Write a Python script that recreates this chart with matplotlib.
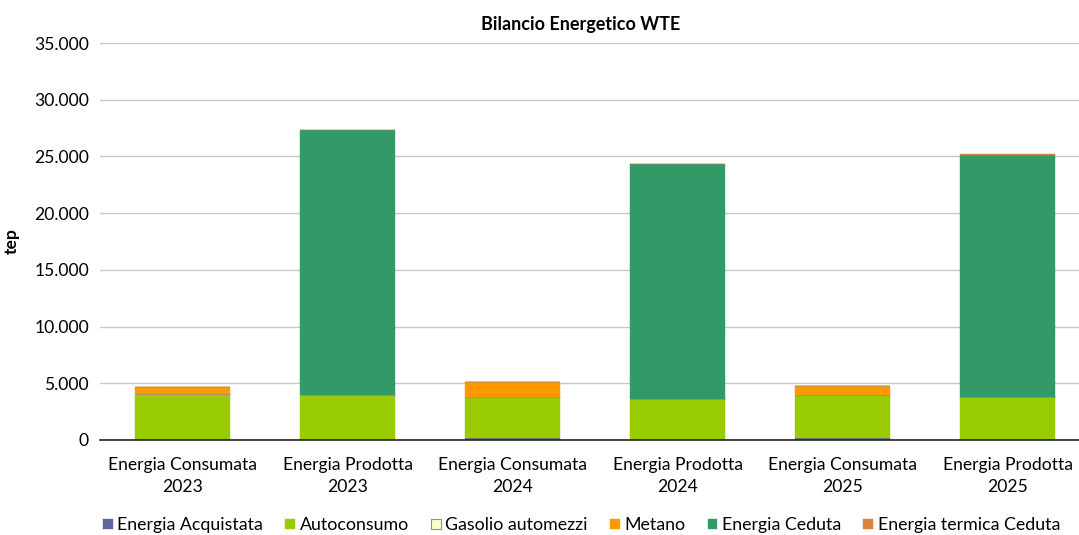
import matplotlib.pyplot as plt
import numpy as np
from matplotlib.ticker import FuncFormatter

plt.rcParams['font.family'] = ['Lato', 'DejaVu Sans']

categorie = ['Energia Consumata\n2023', 'Energia Prodotta\n2023',
             'Energia Consumata\n2024', 'Energia Prodotta\n2024',
             'Energia Consumata\n2025', 'Energia Prodotta\n2025']

acquistata = [30, 0, 180, 0, 180, 0]
autoconsumo = [4000, 3970, 3610, 3615, 3790, 3790]
gasolio = [30, 0, 0, 0, 30, 0]
metano = [610, 0, 1300, 0, 790, 0]
ceduta = [0, 23370, 0, 20720, 0, 21340]
termica = [0, 0, 0, 0, 0, 50]

serie = [
    ('Energia Acquistata', acquistata, '#62649c'),
    ('Autoconsumo', autoconsumo, '#99cc00'),
    ('Gasolio automezzi', gasolio, '#ffffcc'),
    ('Metano', metano, '#ff9900'),
    ('Energia Ceduta', ceduta, '#339966'),
    ('Energia termica Ceduta', termica, '#dd8040'),
]

fig = plt.figure(figsize=(10.79, 5.35), dpi=100)
ax = fig.add_axes([0.0927, 0.1776, 0.9175, 0.742])

x = np.arange(len(categorie))
bottom = np.zeros(len(categorie))
handles = []
for nome, valori, colore in serie:
    valori = np.array(valori, dtype=float)
    if nome == 'Gasolio automezzi':
        edge, lw = '#909090', 0.8
    else:
        edge, lw = colore, 0.3
    b = ax.bar(x, valori, 0.57, bottom=bottom, color=colore,
               edgecolor=edge, linewidth=lw, label=nome, zorder=3)
    handles.append(b)
    bottom += valori

ax.set_xlim(-0.5, 5.5)
ax.set_ylim(0, 35000)
ax.set_yticks(np.arange(0, 35001, 5000))
ax.yaxis.set_major_formatter(FuncFormatter(lambda v, p: f'{int(v):,}'.replace(',', '.')))
ax.set_xticks(x)
ax.set_xticklabels(categorie, fontsize=12.6, linespacing=1.45)
ax.tick_params(axis='y', labelsize=12.6, length=0, pad=8)
ax.tick_params(axis='x', length=0, pad=12)
ax.grid(axis='y', color='#c8c8c8', linewidth=1, zorder=0)
for s in ['top', 'right', 'left']:
    ax.spines[s].set_visible(False)
ax.spines['bottom'].set_color('#222222')
ax.spines['bottom'].set_linewidth(1.2)
ax.spines['bottom'].set_zorder(4)

ax.set_ylabel('tep', fontsize=12.6, fontweight='bold', labelpad=10)
fig.text(0.538, 0.955, 'Bilancio Energetico WTE', ha='center', va='center',
         fontsize=13, fontweight='bold')

fig.legend(handles=handles, loc='center', bbox_to_anchor=(0.539, 0.018), ncol=6,
           frameon=False, fontsize=12.8, handlelength=0.55, handleheight=0.55,
           handletextpad=0.25, columnspacing=1.25)

fig.savefig('out.png', dpi=100)
